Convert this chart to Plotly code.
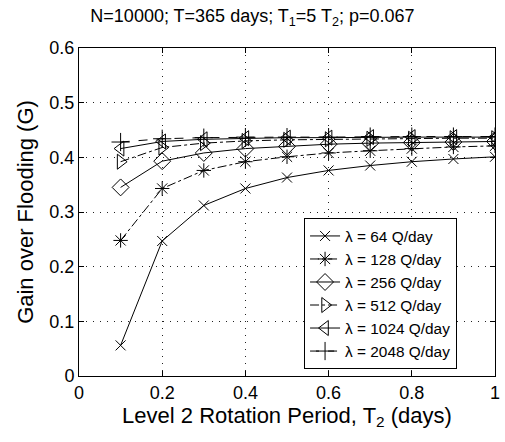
import plotly.graph_objects as go

T2 = [0.1, 0.2, 0.3, 0.4, 0.5, 0.6, 0.7, 0.8, 0.9, 1.0]
g64 = [0.056, 0.247, 0.312, 0.343, 0.363, 0.376, 0.385, 0.392, 0.397, 0.401]
g128 = [0.248, 0.343, 0.376, 0.392, 0.401, 0.408, 0.412, 0.416, 0.419, 0.421]
g256 = [0.345, 0.393, 0.408, 0.416, 0.420, 0.424, 0.426, 0.427, 0.428, 0.429]
g512 = [0.392, 0.418, 0.426, 0.430, 0.432, 0.433, 0.434, 0.434, 0.435, 0.435]
g1024 = [0.416, 0.429, 0.433, 0.435, 0.436, 0.436, 0.437, 0.437, 0.437, 0.437]
g2048 = [0.428, 0.434, 0.436, 0.437, 0.437, 0.437, 0.438, 0.438, 0.438, 0.438]
names = ["λ = 64 Q/day", "λ = 128 Q/day", "λ = 256 Q/day",
         "λ = 512 Q/day", "λ = 1024 Q/day", "λ = 2048 Q/day"]

series = [g64, g128, g256, g512, g1024, g2048]
symbols = ["x-thin-open", "asterisk-open", "diamond-open",
           "triangle-right-open", "triangle-left-open", "cross-thin-open"]
dashes = ["solid", "dashdot", "solid", "dashdot", "solid", "dash"]
sizes = [10, 12, 13, 13, 13, 13]

fig = go.Figure()
for i, (ys, nm, sym, ds, sz) in enumerate(zip(series, names, symbols, dashes, sizes)):
    fig.add_trace(go.Scatter(
        x=T2, y=ys, name=nm, mode="lines+markers", legendgroup=f"g{i}",
        line=dict(color="black", width=1, dash=ds),
        marker=dict(symbol=sym, size=sz, color="black",
                    line=dict(color="black", width=1)),
    ))

fig.update_layout(
    width=505, height=442,
    margin=dict(l=79, r=10, t=48, b=66, autoexpand=False),
    paper_bgcolor="white", plot_bgcolor="white",
    font=dict(family="Liberation Sans, Arial, sans-serif", size=18, color="black"),
    title=dict(text="N=10000; T=365 days; T<sub>1</sub>=5 T<sub>2</sub>; p=0.067",
               x=0.5, xanchor="center", y=0.978, yanchor="top",
               font=dict(size=18)),
    showlegend=True,
    legend=dict(x=0.541, y=0.02, xanchor="left", yanchor="bottom",
                bgcolor="white", bordercolor="black", borderwidth=1,
                font=dict(size=15.4), tracegroupgap=0, itemwidth=30,
                entrywidth=140, entrywidthmode="pixels"),
)
grid_dash = "1px,6px"
fig.update_xaxes(range=[0, 1], tickvals=[0, 0.2, 0.4, 0.6, 0.8, 1],
                 ticktext=["0", "0.2", "0.4", "0.6", "0.8", "1"],
                 showline=True, linecolor="black", linewidth=1, mirror="ticks",
                 ticks="inside", ticklen=5, tickcolor="black", automargin=False,
                 showgrid=True, gridcolor="#222", griddash=grid_dash, gridwidth=1,
                 zeroline=False,
                 title=dict(text="Level 2 Rotation Period, T<sub>2</sub> (days)",
                            standoff=0))
fig.update_yaxes(range=[0, 0.6], tickvals=[0, 0.1, 0.2, 0.3, 0.4, 0.5, 0.6],
                 ticktext=["0", "0.1", "0.2", "0.3", "0.4", "0.5", "0.6"],
                 showline=True, linecolor="black", linewidth=1, mirror="ticks",
                 ticks="inside", ticklen=5, tickcolor="black", automargin=False,
                 showgrid=True, gridcolor="#222", griddash=grid_dash, gridwidth=1,
                 zeroline=False,
                 title=dict(text="Gain over Flooding (G)", standoff=9))

fig.write_html("out.html", config={"displayModeBar": False},
               post_script="document.body.style.margin='0';document.body.style.padding='0';")
